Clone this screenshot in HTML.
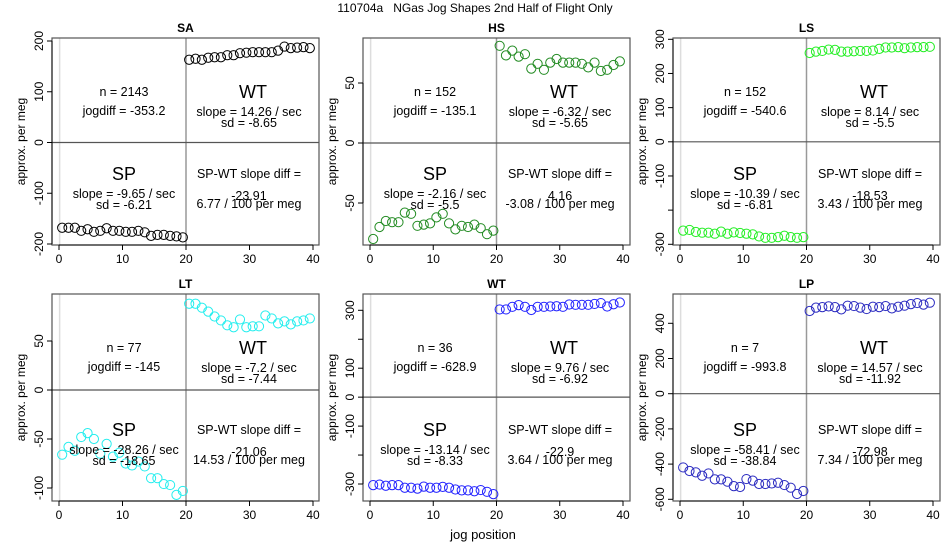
<!DOCTYPE html>
<html><head><meta charset="utf-8"><style>
html,body{margin:0;padding:0;background:#fff;}
svg text{font-family:"Liberation Sans",Arial,sans-serif;}
</style></head><body>
<svg id="chart" width="950" height="550" xmlns="http://www.w3.org/2000/svg">
<text x="475" y="12" text-anchor="middle" font-size="12" fill="#000" style="white-space:pre">110704a   NGas Jog Shapes 2nd Half of Flight Only</text>
<text x="483" y="539" text-anchor="middle" font-size="13" fill="#000">jog position</text>
</svg>
<script>
const panelNames=["SA","HS","LS","LT","WT","LP"];
const panelColors=["#000000","#228b22","#22ee22","#22eeee","#2222ff","#2a2ac0"];
const spSA=[-168,-168,-168,-174,-171,-176,-174,-169,-174,-174,-176,-176,-174,-177,-184,-182,-182,-184,-185,-187];
const wtSA=[163,165,163,167,168,168,172,172,176,177,178,178,178,178,181,189,186,187,188,186];
const spHS=[-80,-70,-65,-66,-66,-58,-59,-69,-68,-67,-62,-59,-67,-72,-69,-70,-68,-71,-76,-73];
const wtHS=[81,73,77,72,74,62,66,61,67,70,67,67,67,66,63,67,60,61,65,68];
const spLS=[-260,-258,-264,-266,-266,-269,-263,-269,-265,-267,-269,-271,-277,-281,-281,-279,-275,-279,-281,-279];
const wtLS=[260,264,266,270,269,264,264,265,266,266,267,272,276,276,277,274,276,277,277,278];
const spLT=[-66,-58,-62,-48,-44,-50,-65,-55,-68,-64,-75,-77,-73,-78,-90,-90,-96,-97,-107,-103];
const wtLT=[88,88,84,80,75,71,66,64,72,64,65,65,76,73,68,70,67,70,71,73];
const spWT=[-304,-302,-306,-304,-304,-313,-313,-316,-309,-313,-313,-310,-313,-319,-322,-322,-325,-321,-327,-335];
const wtWT=[303,303,312,318,312,301,312,312,313,314,312,320,319,319,319,322,325,313,321,327];
const spLP=[-419,-439,-447,-466,-453,-487,-487,-500,-525,-530,-485,-494,-513,-513,-510,-506,-519,-534,-570,-553];
const wtLP=[470,489,492,496,492,479,500,498,489,481,494,492,498,485,494,500,509,515,506,517];
const yDomains=[[-200,200,244,41],[-50,50,203,83],[-300,300,244.3,39.3],[-100,50,488,341],[-300,300,484,310.3],[-600,400,499.3,323.3]];
const yTicks=[[-200,-100,0,100,200],[-50,0,50],[-300,-200,-100,0,100,200,300],[-100,-50,0,50],[-300,-200,-100,0,100,200,300]];
yTicks.push([-600,-400,-200,0,200,400]);
const yTickLabels=[["-200","-100","0","100","200"],["-50","0","50"],["-300","","-100","0","100","200","300"],["-100","-50","0","50"],["-300","","-100","0","100","","300"],["-600","-400","-200","0","200","400"]];
const xTicks=[0,10,20,30,40];
const nVals=["2143","152","152","77","36","7"];
const jogdiffs=["-353.2","-135.1","-540.6","-145","-628.9","-993.8"];
const wtSlopes=["14.26","-6.32","8.14","-7.2","9.76","14.57"];
const wtSds=["-8.65","-5.65","-5.5","-7.44","-6.92","-11.92"];
const spSlopes=["-9.65","-2.16","-10.39","-28.26","-13.14","-58.41"];
const spSds=["-6.21","-5.5","-6.81","-18.65","-8.33","-38.84"];
const slopeDiffs=["-23.91","4.16","-18.53","-21.06","-22.9","-72.98"];
const perMegs=["6.77","-3.08","3.43","14.53","3.64","7.34"];
const spData=[spSA,spHS,spLS,spLT,spWT,spLP];
const wtData=[wtSA,wtHS,wtLS,wtLT,wtWT,wtLP];

const NS="http://www.w3.org/2000/svg";
const svg=document.getElementById('chart');
function mk(tag,attrs,parent){const e=document.createElementNS(NS,tag);for(const k in attrs)e.setAttribute(k,attrs[k]);(parent||svg).appendChild(e);return e;}
function txt(parent,x,y,s,size,extra){const t=mk('text',Object.assign({x:x,y:y,'text-anchor':'middle','font-size':size,fill:'#000'},extra||{}),parent);t.textContent=s;return t;}

const colL=[52,363,673],colX0=[59,370,680],colX40=[313,623,933],rowTop=[38,294],rowBot=[245,501];
for(let p=0;p<6;p++){
  const c=p%3,r=Math.floor(p/3);
  const L=colL[c],R=colL[c]+267,T=rowTop[r],B=rowBot[r];
  const xs=v=>colX0[c]+(colX40[c]-colX0[c])*v/40;
  const [d0,d1,p0,p1]=yDomains[p];
  const ys=v=>p0+(p1-p0)*(v-d0)/(d1-d0);
  const g=mk('g',{});
  
  
  const title=txt(g,(L+R)/2,T-6,panelNames[p],12,{'font-weight':'bold'});
  
  
  const v0=mk('line',{x1:xs(0.1),x2:xs(0.1),y1:T,y2:B,stroke:'#ddd','stroke-width':1.5},g);
  
  
  const v20=mk('line',{x1:xs(20),x2:xs(20),y1:T,y2:B,stroke:'#999','stroke-width':1.5},g);
  
  
  const h0=mk('line',{x1:L,x2:R,y1:ys(0),y2:ys(0),stroke:'#555','stroke-width':1.2},g);
  
  
  const box=mk('rect',{x:L,y:T,width:R-L,height:B-T,fill:'none',stroke:'#555','stroke-width':1.2},g);
  
  
  const xa=mk('g',{},g);
  
  
  mk('line',{x1:xs(0),x2:xs(40),y1:B,y2:B,stroke:'#000'},xa);
  xTicks.forEach(v=>{mk('line',{x1:xs(v),x2:xs(v),y1:B,y2:B+5,stroke:'#000'},xa);
    const t=txt(xa,xs(v),B+18,String(v),12);
    
    });
  const ya=mk('g',{},g);
  
  
  const tk=yTicks[p];
  mk('line',{x1:L,x2:L,y1:ys(tk[0]),y2:ys(tk[tk.length-1]),stroke:'#000'},ya);
  tk.forEach((v,i)=>{const y=ys(v);mk('line',{x1:L-5,x2:L,y1:y,y2:y,stroke:'#000'},ya);
    if(yTickLabels[p][i]){const t=txt(ya,0,0,yTickLabels[p][i],12,{transform:`translate(${L-9},${y}) rotate(-90)`});
    
    }});
  const yt=txt(g,0,0,'approx. per meg',12,{transform:`translate(${L-27},${(T+B)/2}) rotate(-90)`});
  
  
  const col=panelColors[p];
  spData[p].forEach((v,i)=>{const ci=mk('circle',{cx:xs(i+0.5),cy:ys(v),r:4.6,fill:'none',stroke:col,'stroke-width':1},g);
    
    });
  wtData[p].forEach((v,i)=>{const ci=mk('circle',{cx:xs(i+20.5),cy:ys(v),r:4.6,fill:'none',stroke:col,'stroke-width':1},g);
    
    });
  const a=mk('g',{fill:'#000'},g);
  
  
  const lx=L+72,rx=L+197;
  txt(a,lx,T+58,'n = '+nVals[p],12.5);
  txt(a,lx,T+77,'jogdiff = '+jogdiffs[p],12.5);
  txt(a,rx+4,T+60,'WT',18);
  txt(a,rx,T+78,'slope = '+wtSlopes[p]+' / sec',12.5);
  txt(a,rx,T+89,'sd = '+wtSds[p],12.5);
  txt(a,lx,T+142,'SP',18);
  txt(a,lx,T+160,'slope = '+spSlopes[p]+' / sec',12.5);
  txt(a,lx,T+171,'sd = '+spSds[p],12.5);
  txt(a,rx,T+140,'SP-WT slope diff =',12.5);
  txt(a,rx,T+162,slopeDiffs[p],12.5);
  txt(a,rx,T+170,perMegs[p]+' / 100 per meg',12.5);
}
</script>
</body></html>
